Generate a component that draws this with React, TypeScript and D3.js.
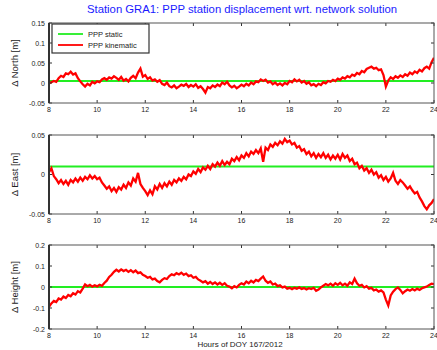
import React from 'react';
import * as d3 from 'd3';

// hours of day, 0.1 h steps from 8 to 24
const hours = d3.range(161).map(i => 8 + i * 0.1);

const xTicks = [8, 10, 12, 14, 16, 18, 20, 22, 24];

// kinematic PPP displacements in mm
const northKin = [
  -1, 2, 5, 3, 12, 18, 15, 24, 22, 28, 21, 24, 12, 4, -3, -9, -2, -6, 3, -1,
  4, 2, 9, 12, 8, 14, 11, 17, 13, 8, 15, 6, 10, 4, 13, 18, 12, 26, 36, 16,
  20, 10, 14, 6, 9, 3, 7, -2, -5, 1, -8, -11, -6, -13, -9, -4, -7, -2, -10, -5,
  -9, -3, -12, -8, -15, -24, -10, -13, -6, -10, -4, -8, 1, -3, 3, -6, -11, -7, -13, -9,
  -4, -8, -2, -6, 1, -3, 4, 2, 9, 5, 8, 1, 4, -3, 1, -5, -1, -6, 0, -3,
  5, 2, 9, 4, 8, 1, 5, -2, 2, -6, -3, -8, -2, -5, 2, -1, 5, 3, 8, 5,
  11, 8, 14, 11, 17, 14, 21, 18, 25, 22, 30, 27, 35, 38, 41, 36, 38, 32, 34, 20,
  -9, 6, 14, 10, 17, 13, 19, 15, 22, 18, 26, 22, 29, 25, 33, 29, 37, 41, 36, 52,
  63,
];

const eastKin = [
  3, 8, -2, -6, -11, -7, -12, -8, -13, -7, -10, -5, -9, -4, -8, -3, -6, -1, -5, -2,
  -6, -4, -10, -14, -18, -15, -21, -17, -22, -16, -19, -13, -17, -10, -14, -5, -9, 2, -12, -17,
  -21, -26, -20, -25, -15, -19, -12, -17, -11, -15, -9, -13, -7, -10, -5, -8, -3, -6, 0, -2,
  4, 1, 7, 3, 9, 6, 11, 7, 13, 10, 15, 11, 17, 12, 16, 13, 20, 17, 22, 18,
  24, 21, 27, 23, 29, 26, 31, 27, 33, 16, 34, 31, 38, 35, 40, 37, 42, 39, 45, 41,
  43, 38, 40, 34, 36, 30, 32, 26, 29, 23, 27, 21, 26, 22, 27, 21, 25, 19, 24, 20,
  25, 19, 26, 21, 24, 17, 20, 13, 15, 8, 11, 5, 8, 2, 6, 0, 3, -4, -1, -7,
  -3, -9, -5, 2, -8, -12, -7, -10, -14, -18, -15, -20, -24, -22, -29, -34, -40, -44, -39, -36,
  -31,
];

const heightKin = [
  -94, -78, -66, -72, -55, -60, -45, -52, -38, -44, -30, -36, -20, -26, -8, 12, 4, 10, 2, 8,
  3, 11, 6, 19, 30, 48, 58, 72, 82, 74, 84, 76, 82, 72, 80, 70, 78, 66, 70, 58,
  52, 44, 48, 36, 40, 28, 22, 34, 42, 38, 52, 60, 56, 66, 60, 68, 58, 64, 52, 56,
  44, 48, 36, 30, 22, 28, 16, 24, 14, 22, 12, 20, 10, 18, 6, 2, -6, 4, -2, 10,
  18, 12, 26, 18, 30, 22, 34, 28, 40, 50, 30, 20, 26, 12, 16, 4, 8, -2, 2, -8,
  -4, -10, -4, -8, -2, -9, -5, -12, -6, -10, -4, -18, -12, -2, 6, 14, 8, 16, 6, 18,
  10, 20, 8, 16, 6, 22, 14, 40, 18, 6, 10, -2, 4, -8, -4, -16, -12, -22, -16, -26,
  -60, -88, -40, -22, -10, -2, -14, -30, -20, -12, -18, -10, -16, -8, -14, -6, -2, 2, 10, 16,
  14,
];

// static PPP solution (constant offset, mm)
const staticVals = [5, 10, 0];

const panelNames = ['Δ North [m]', 'Δ East [m]', 'Δ Height [m]'];
const yDomains: [number, number][] = [[-0.05, 0.15], [-0.05, 0.05], [-0.2, 0.2]];
const yTickVals = [
  [-0.05, 0, 0.05, 0.1, 0.15],
  [-0.05, 0, 0.05],
  [-0.2, -0.1, 0, 0.1, 0.2],
];
const yTickText = [
  ['-0.05', '0', '0.05', '0.1', '0.15'],
  ['-0.05', '0', '0.05'],
  ['-0.2', '-0.1', '0', '0.1', '0.2'],
];
const kinSeries = [northKin, eastKin, heightKin];

const W = 437;
const H = 350;
const left = 49;
const right = 434;
const panelTops = [23, 135, 245];
const panelBottoms = [103, 214, 329];

const font = '"Liberation Sans", Arial, sans-serif';

const Panel = ({ idx }: { idx: number }) => {
  const x = d3.scaleLinear().domain([8, 24]).range([left, right]);
  const y = d3.scaleLinear().domain(yDomains[idx]).range([panelBottoms[idx], panelTops[idx]]);
  const line = d3.line<number>()
    .x((_, i) => x(hours[i]))
    .y(d => y(d / 1000));
  const top = panelTops[idx];
  const bottom = panelBottoms[idx];
  const sv = staticVals[idx] / 1000;
  return (
    <g>
      <defs>
        <clipPath id={`clip${idx}`}>
          <rect x={left} y={top} width={right - left} height={bottom - top} />
        </clipPath>
      </defs>
      <rect x={left} y={top} width={right - left} height={bottom - top} fill="#fff" />
      <g clipPath={`url(#clip${idx})`}>
        <line x1={left} x2={right} y1={y(sv)} y2={y(sv)} stroke="#22ee22" strokeWidth={2} />
        <path d={line(kinSeries[idx]) || ''} fill="none" stroke="#ff0000" strokeWidth={2.3} strokeLinejoin="miter" />
      </g>
      {xTicks.map(t => (
        <g key={t}>
          <line x1={x(t)} x2={x(t)} y1={bottom} y2={bottom - 3} stroke="#333" />
          <line x1={x(t)} x2={x(t)} y1={top} y2={top + 3} stroke="#333" />
          <text x={x(t)} y={bottom + 9} fontSize={7} textAnchor="middle" fontFamily={font} fill="#222">
            {t}
          </text>
        </g>
      ))}
      {yTickVals[idx].map((t, k) => (
        <g key={t}>
          <line x1={left} x2={left + 3} y1={y(t)} y2={y(t)} stroke="#333" />
          <line x1={right} x2={right - 3} y1={y(t)} y2={y(t)} stroke="#333" />
          <text x={left - 4} y={y(t) + 2.5} fontSize={7} textAnchor="end" fontFamily={font} fill="#222">
            {yTickText[idx][k]}
          </text>
        </g>
      ))}
      <rect x={left} y={top} width={right - left} height={bottom - top} fill="none" stroke="#555" strokeWidth={1} />
      <line x1={left} x2={left} y1={top} y2={bottom} stroke="#333" strokeWidth={2} />
      <text
        transform={`translate(18,${(top + bottom) / 2}) rotate(-90)`}
        fontSize={9.5}
        textAnchor="middle"
        fontFamily={font}
        fill="#222"
      >
        {panelNames[idx]}
      </text>
    </g>
  );
};

export default function App() {
  return (
    <svg width={W} height={H} style={{ position: 'absolute', left: 0, top: 0, background: '#fff' }}>
      <text x={242} y={13} fontSize={11.3} textAnchor="middle" fontFamily={font} fill="#1a1aff">
        Station GRA1: PPP station displacement wrt. network solution
      </text>
      {[0, 1, 2].map(i => <Panel key={i} idx={i} />)}
      {/* legend */}
      <g>
        <rect x={52} y={24} width={97} height={29} fill="#fff" stroke="#333" strokeWidth={1.2} />
        <line x1={58} x2={83} y1={34} y2={34} stroke="#22ee22" strokeWidth={1.8} />
        <line x1={58} x2={83} y1={45} y2={45} stroke="#ff0000" strokeWidth={1.8} />
        <text x={88} y={36.5} fontSize={7.5} fontFamily={font} fill="#222">PPP static</text>
        <text x={88} y={47.5} fontSize={7.5} fontFamily={font} fill="#222">PPP kinematic</text>
      </g>
      <text x={240} y={347} fontSize={8} textAnchor="middle" fontFamily={font} fill="#222">
        Hours of DOY 167/2012
      </text>
    </svg>
  );
}
